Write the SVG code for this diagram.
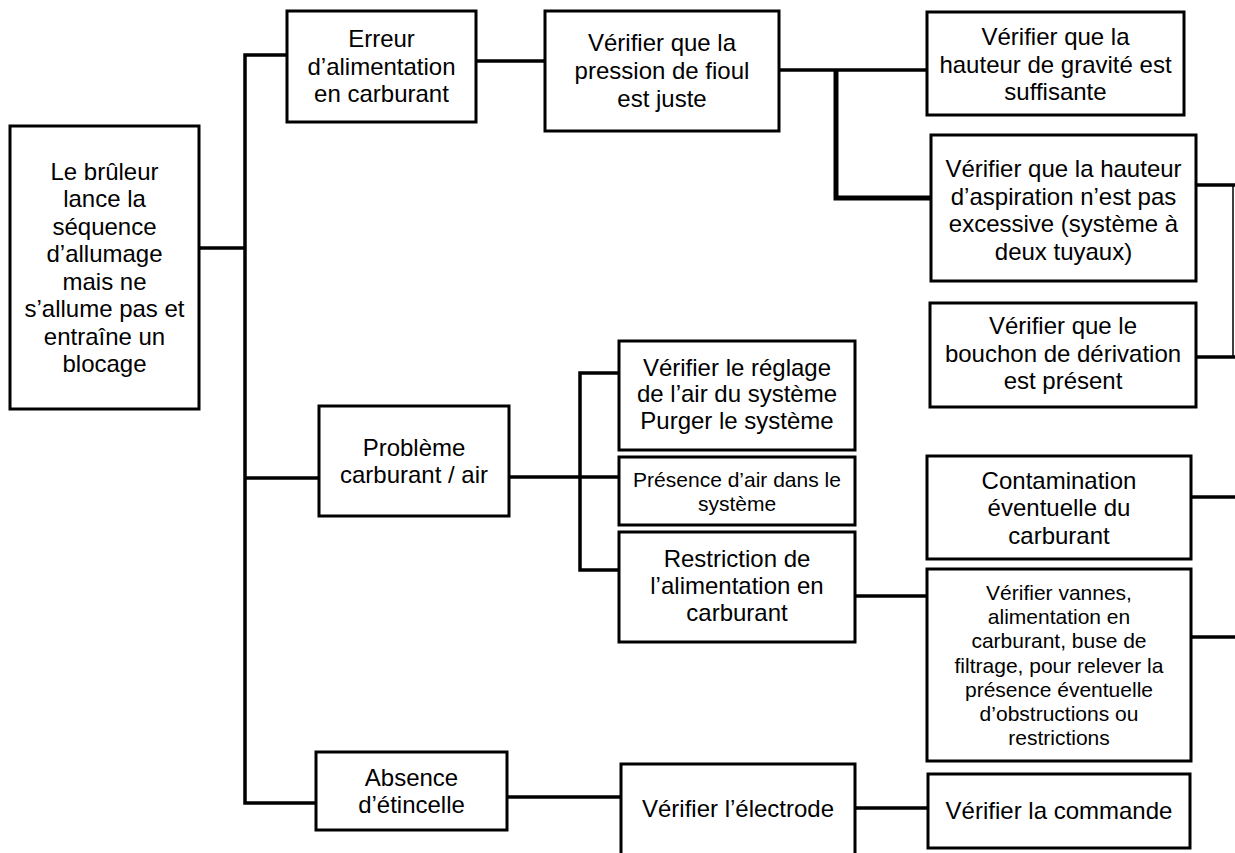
<svg xmlns="http://www.w3.org/2000/svg" width="1235" height="853" viewBox="0 0 1235 853">
<style>
.box{fill:#fff;stroke:#000;stroke-width:3}
.t{font-family:"Liberation Sans",Arial,sans-serif;font-size:24px;text-anchor:middle;fill:#000}
.s{font-size:21px}
.c{fill:none;stroke:#000;stroke-width:3.5}
.thick{stroke-width:5}
.thin{stroke-width:1.5}
</style>
<rect width="1235" height="853" fill="#fff"/>
<g id="connectors">
<polyline class="c" points="199,248 245,248"/>
<polyline class="c" points="287,55 245,55 245,803 316,803"/>
<polyline class="c" points="245,478 319,478"/>
<polyline class="c" points="476,61 545,61"/>
<polyline class="c" points="779,70 927,70"/>
<polyline class="c thick" points="836,70 836,198 931,198"/>
<polyline class="c" points="1196,185 1235,185"/>
<polyline class="c" points="1196,357 1235,357"/>
<polyline class="c thin" points="1233,185 1233,357"/>
<polyline class="c" points="509,477 619,477"/>
<polyline class="c" points="619,373 580,373 580,570 619,570"/>
<polyline class="c" points="855,596 927,596"/>
<polyline class="c" points="1191,497 1235,497"/>
<polyline class="c" points="1191,637 1235,637"/>
<polyline class="c" points="507,797 621,797"/>
<polyline class="c" points="855,808 928,808"/>
</g>
<g id="root">
<rect class="box" x="10" y="126" width="189" height="283"/>
<text class="t"><tspan x="104.5" y="179.5">Le brûleur</tspan><tspan x="104.5" y="207">lance la</tspan><tspan x="104.5" y="234.5">séquence</tspan><tspan x="104.5" y="262">d’allumage</tspan><tspan x="104.5" y="289.5">mais ne</tspan><tspan x="104.5" y="317">s’allume pas et</tspan><tspan x="104.5" y="344.5">entraîne un</tspan><tspan x="104.5" y="372">blocage</tspan></text>
</g>
<g id="erreur">
<rect class="box" x="287" y="11" width="189" height="111"/>
<text class="t"><tspan x="381.5" y="47">Erreur</tspan><tspan x="381.5" y="75">d’alimentation</tspan><tspan x="381.5" y="102">en carburant</tspan></text>
</g>
<g id="pression">
<rect class="box" x="545" y="11" width="234" height="120"/>
<text class="t"><tspan x="662" y="51">Vérifier que la</tspan><tspan x="662" y="79">pression de fioul</tspan><tspan x="662" y="107">est juste</tspan></text>
</g>
<g id="gravite">
<rect class="box" x="927" y="12" width="257" height="103"/>
<text class="t"><tspan x="1055.5" y="45">Vérifier que la</tspan><tspan x="1055.5" y="72.5">hauteur de gravité est</tspan><tspan x="1055.5" y="100">suffisante</tspan></text>
</g>
<g id="aspiration">
<rect class="box" x="931" y="135" width="265" height="146"/>
<text class="t"><tspan x="1063.5" y="177">Vérifier que la hauteur</tspan><tspan x="1063.5" y="204.5">d’aspiration n’est pas</tspan><tspan x="1063.5" y="232">excessive (système à</tspan><tspan x="1063.5" y="259.5">deux tuyaux)</tspan></text>
</g>
<g id="bouchon">
<rect class="box" x="930" y="303" width="266" height="104"/>
<text class="t"><tspan x="1063" y="334">Vérifier que le</tspan><tspan x="1063" y="361.5">bouchon de dérivation</tspan><tspan x="1063" y="389">est présent</tspan></text>
</g>
<g id="probleme">
<rect class="box" x="319" y="406" width="190" height="110"/>
<text class="t"><tspan x="414" y="455.5">Problème</tspan><tspan x="414" y="483">carburant / air</tspan></text>
</g>
<g id="reglage">
<rect class="box" x="619" y="341" width="236" height="109"/>
<text class="t"><tspan x="737" y="375.5">Vérifier le réglage</tspan><tspan x="737" y="402">de l’air du système</tspan><tspan x="737" y="428.5">Purger le système</tspan></text>
</g>
<g id="presence">
<rect class="box" x="619" y="457" width="236" height="68"/>
<text class="t s"><tspan x="737" y="486.5">Présence d’air dans le</tspan><tspan x="737" y="510.5">système</tspan></text>
</g>
<g id="restriction">
<rect class="box" x="619" y="532" width="236" height="110"/>
<text class="t"><tspan x="737" y="567">Restriction de</tspan><tspan x="737" y="594">l’alimentation en</tspan><tspan x="737" y="621">carburant</tspan></text>
</g>
<g id="contamination">
<rect class="box" x="927" y="456" width="264" height="103"/>
<text class="t"><tspan x="1059" y="488.5">Contamination</tspan><tspan x="1059" y="516">éventuelle du</tspan><tspan x="1059" y="543.5">carburant</tspan></text>
</g>
<g id="vannes">
<rect class="box" x="927" y="569" width="264" height="192"/>
<text class="t s"><tspan x="1059" y="600">Vérifier vannes,</tspan><tspan x="1059" y="624.2">alimentation en</tspan><tspan x="1059" y="648.4">carburant, buse de</tspan><tspan x="1059" y="672.6">filtrage, pour relever la</tspan><tspan x="1059" y="696.8">présence éventuelle</tspan><tspan x="1059" y="721">d’obstructions ou</tspan><tspan x="1059" y="745.2">restrictions</tspan></text>
</g>
<g id="absence">
<rect class="box" x="316" y="752" width="191" height="78"/>
<text class="t"><tspan x="411.5" y="786">Absence</tspan><tspan x="411.5" y="813">d’étincelle</tspan></text>
</g>
<g id="electrode">
<rect class="box" x="621" y="764" width="234" height="110"/>
<text class="t" x="738" y="817">Vérifier l’électrode</text>
</g>
<g id="commande">
<rect class="box" x="928" y="774" width="262" height="74"/>
<text class="t" x="1059" y="819">Vérifier la commande</text>
</g>
</svg>
